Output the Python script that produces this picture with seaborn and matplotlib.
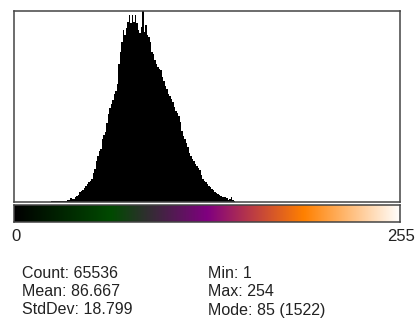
import numpy as np
import pandas as pd
import matplotlib
matplotlib.use("Agg")
import matplotlib.pyplot as plt
from matplotlib.colors import LinearSegmentedColormap
import seaborn as sns

# ---- data (histogram counts per grey level) ----
bin_start = 20
counts_20_to_150 = [
    0, 0, 3, 5, 8, 10, 13, 9, 11, 13,          # 20-29
    10, 8, 9, 10, 12, 14, 16, 30, 24, 22,       # 30-39
    38, 50, 60, 78, 86, 100, 110, 130, 142, 158,  # 40-49
    170, 188, 236, 262, 330, 372, 410, 424, 500, 536,  # 50-59
    560, 635, 700, 752, 785, 815, 860, 885, 945, 1100,  # 60-69
    1200, 1280, 1370, 1330, 1390, 1440, 1496, 1430, 1495, 1437,  # 70-79
    1490, 1430, 1370, 1345, 1400, 1522, 1360, 1410, 1330, 1320,  # 80-89
    1280, 1200, 1180, 1130, 1100, 1075, 1060, 1050, 1000, 970,  # 90-99
    930, 905, 860, 850, 823, 795, 760, 730, 715, 690,  # 100-109
    637, 570, 530, 500, 470, 437, 390, 365, 345, 325,  # 110-119
    305, 290, 275, 255, 220, 186, 170, 159, 145, 133,  # 120-129
    120, 106, 95, 80, 72, 62, 55, 50, 45, 42,  # 130-139
    40, 30, 15, 25, 40, 20, 10, 5, 3, 2,  # 140-149
    1,  # 150
]
stray_levels = [1, 254]
stray_counts = [1, 1]

tick_labels = ["0", "255"]
stats_col1 = ["Count: 65536", "Mean: 86.667", "StdDev: 18.799"]
stats_col2 = ["Min: 1", "Max: 254", "Mode: 85 (1522)"]

lut_positions = [0.0, 0.25, 0.5, 0.75, 1.0]
lut_colors = ["#000000", "#004a00", "#800080", "#ff8000", "#ffffff"]

# ---- build table ----
counts = np.zeros(256)
counts[bin_start:bin_start + len(counts_20_to_150)] = counts_20_to_150
for lv, c in zip(stray_levels, stray_counts):
    counts[lv] += c
df = pd.DataFrame({"level": np.arange(256) + 0.5, "count": counts})

W, H = 418, 326
fig = plt.figure(figsize=(W / 100, H / 100), dpi=100)
sns.set_style("white")
plt.rcParams["font.family"] = ["Liberation Sans", "DejaVu Sans"]

frame_col = "#444444"
lw = 1.1

def px_rect(x0, y0, x1, y1):
    return [x0 / W, 1 - y1 / H, (x1 - x0) / W, (y1 - y0) / H]

ax = fig.add_axes(px_rect(13.8, 10.7, 400.2, 202.2))
sns.histplot(data=df, x="level", weights="count", bins=256, binrange=(0, 256),
             color="black", alpha=1, linewidth=0, ax=ax)
ax.set_xlim(-0.8, 256.8)
ax.set_ylim(0, 1522 * 1.003)
ax.set_xticks([]); ax.set_yticks([])
ax.set_xlabel(""); ax.set_ylabel("")
for s in ax.spines.values():
    s.set_visible(True)
    s.set_color(frame_col)
    s.set_linewidth(lw)

cax = fig.add_axes(px_rect(13.8, 205.2, 400.2, 222.2))
cmap = LinearSegmentedColormap.from_list("lut", list(zip(lut_positions, lut_colors)))
grad = np.linspace(0, 1, 256)[None, :]
cax.imshow(grad, aspect="auto", cmap=cmap, extent=(0, 256, 0, 1))
cax.set_xticks([]); cax.set_yticks([])
for s in cax.spines.values():
    s.set_color(frame_col)
    s.set_linewidth(lw)

txt_col = "#222222"
fs = 12
fig.text(11.5 / W, 1 - 241 / H, tick_labels[0], ha="left", va="baseline",
         fontsize=fs, color=txt_col)
fig.text(415.5 / W, 1 - 241 / H, tick_labels[1], ha="right", va="baseline",
         fontsize=fs, color=txt_col)

baselines = [278.5, 296.5, 314.5]
for t, b in zip(stats_col1, baselines):
    fig.text(22.5 / W, 1 - b / H, t, ha="left", va="baseline", fontsize=11.5, color=txt_col)
for t, b in zip(stats_col2, baselines):
    fig.text(208 / W, 1 - b / H, t, ha="left", va="baseline", fontsize=11.5, color=txt_col)

fig.savefig("out.png", dpi=100)
